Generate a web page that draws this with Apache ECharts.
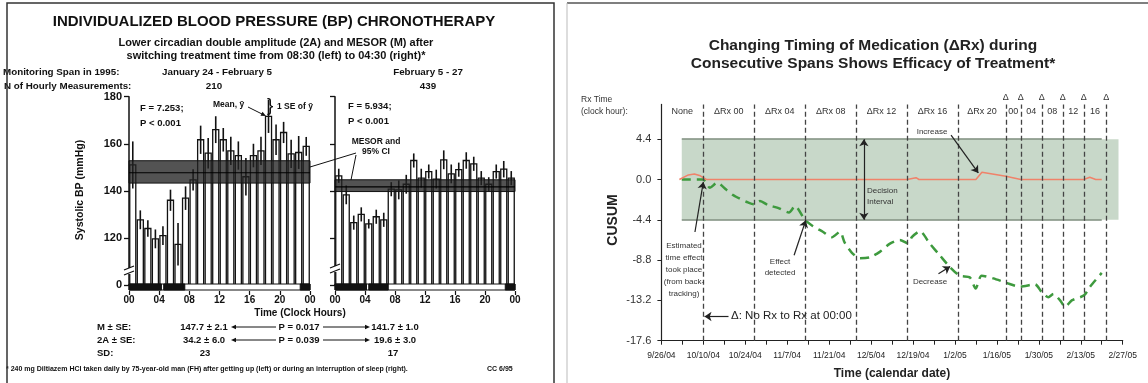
<!DOCTYPE html>
<html><head><meta charset="utf-8">
<script src="https://cdn.jsdelivr.net/npm/echarts@6/dist/echarts.min.js"></script>
<style>html,body{margin:0;padding:0;background:#fff}#c{width:1148px;height:383px}</style>
</head><body><div id="c"></div>
<script>
// ---------------- Left panel data (systolic BP by clock hour) ----------------
const clockHours = [0,1,2,3,4,5,6,7,8,9,10,11,12,13,14,15,16,17,18,19,20,21,22,23];
const leftMean  = [151,127.7,124,119.6,121,136,117.3,136.9,144.7,161.7,156,166,161.7,157,155,146,155,157,171.6,161.7,164.8,155.7,156.3,158.9];
const leftSE    = [10,4,3.5,4,4,4.5,9,5,4.5,6,6.5,5.7,5,6,6,8,5,6,7,6.5,4.5,6,7,4];
const rightMean = [146.4,138.3,126.5,130,126,129,127.7,140.7,140.4,142.8,152.9,145.4,148.2,145,153.2,147.2,149,152.9,151.5,145.4,142.8,148.2,149.2,145.4];
const rightSE   = [3,4,3,3,2,3,3,3,4,4,3,4,3,4,4,4,3,3.5,3,3,3,3,3.5,3];
const leftMesorBand  = [143.3,147.7,152.8];   // lower CI, MESOR, upper CI
const rightMesorBand = [139.7,141.7,144.7];
const leftSleep  = [[0,4.3],[4.6,7.4],[22.7,24]];
const rightSleep = [[0,4.2],[4.5,7.1],[22.7,24]];

// ---------------- Right panel data (CUSUM, days since 9/26/04) ----------------
const incDays  = [6,9,11,13,15,82,85,86,105,107,115,120,141,143,145,147];
const incCusum = [0,0.5,0.6,0.4,0,0,0.2,0,0,0.8,0.36,0,0,0.25,0,0];
const decDays  = [6.8,13.9,16.2,18.6,21.6,23.9,26.2,28.9,30.9,32.9,35.6,38.9,42.6,44.6,47.9,50.6,53.9,56.9,59.6,61.2,63.6,66.3,69.6,72.9,76.3,79.6,82.4,83.6,86.3,89.6,93,96.3,99.6,103,104.9,106.9,110.8,115.3,119.7,124.7,127,129.2,130.9,133.1,134.8,137,141.1,143.1,147];
const decCusum = [0,0,-0.9,-0.35,-1.1,-1.7,-2.1,-2.5,-2.7,-2.35,-2.8,-3.1,-3.6,-2.9,-4.4,-5.1,-5.7,-6.3,-5.7,-6.9,-8.0,-8.6,-8.5,-7.9,-7.0,-6.6,-7.0,-6.3,-5.65,-7.0,-8.3,-9.55,-10.5,-10.7,-11.9,-10.5,-10.8,-11.3,-11.7,-11.45,-12.3,-12.85,-12.5,-13.2,-13.9,-13.2,-12.65,-11.7,-10.2];
const spanBoundDays = [14,31,48,65,82,99,115,120,127,134,141,148.5];
const spanLabels = ['None','ΔRx 00','ΔRx 04','ΔRx 08','ΔRx 12','ΔRx 16','ΔRx 20','00','04','08','12','16'];
const deltaMarked = [false,false,false,false,false,false,true,true,true,true,true,true];
const decisionLimit = 4.4;

const FONT = '"Liberation Sans", Arial, Helvetica, sans-serif';
const chart = echarts.init(document.getElementById('c'));

function dayLabel(d){ const dt = new Date(2004,8,26+Math.round(d)); return (dt.getMonth()+1)+'/'+dt.getDate()+'/'+String(dt.getFullYear()).slice(2); }

function barSeries(xi, means, ses){
  return {type:'custom', xAxisIndex:xi, yAxisIndex:xi, z:2, clip:false,
    data: clockHours.map((h,i)=>[h, means[i], ses[i]]),
    encode:{x:0,y:1},
    renderItem:(p,api)=>{
      const h=api.value(0), v=api.value(1), se=api.value(2);
      const a=api.coord([h+0.1,100]), b=api.coord([h+0.9,v]);
      const c=api.coord([h+0.5,v+se]), d=api.coord([h+0.5,v-se]);
      return {type:'group',children:[
        {type:'rect',shape:{x:a[0],y:b[1],width:b[0]-a[0],height:a[1]-b[1]},style:{fill:'#fff',stroke:'#111',lineWidth:1.3}},
        {type:'line',shape:{x1:c[0],y1:c[1],x2:d[0],y2:d[1]},style:{stroke:'#111',lineWidth:1.6}}
      ]};
    }};
}
function bandSeries(xi, band){
  return {type:'custom', xAxisIndex:xi, yAxisIndex:xi, z:3, clip:false,
    data:[[0,24,band[0],band[1],band[2]]], encode:{x:[0,1],y:[2,3,4]},
    renderItem:(p,api)=>{
      const lo=api.coord([api.value(0),api.value(2)]), hi=api.coord([api.value(1),api.value(4)]), m=api.coord([0,api.value(3)]);
      return {type:'group',children:[
        {type:'rect',shape:{x:lo[0],y:hi[1],width:hi[0]-lo[0],height:lo[1]-hi[1]},style:{fill:'rgba(35,35,35,0.78)',stroke:'#111',lineWidth:1}},
        {type:'line',shape:{x1:lo[0],y1:m[1],x2:hi[0],y2:m[1]},style:{stroke:'#000',lineWidth:1.2}}
      ]};
    }};
}
function sleepSeries(xi, spans){
  return {type:'custom', xAxisIndex:xi, yAxisIndex:xi, z:4, clip:false,
    data:[[0,24,100,0]].concat(spans.map(s=>[s[0],s[1],100,1])), encode:{x:[0,1],y:2},
    renderItem:(p,api)=>{
      const a=api.coord([api.value(0),api.value(2)]), b=api.coord([api.value(1),api.value(2)]);
      const filled=api.value(3)===1;
      return {type:'rect',shape:{x:a[0],y:a[1]-1,width:b[0]-a[0],height:6},style:{fill:filled?'#111':'#fff',stroke:'#111',lineWidth:1}};
    }};
}
function hourAxis(gi){
  return {type:'value',gridIndex:gi,min:0,max:24,interval:4,offset:6,
    axisLine:{show:false,onZero:false},axisTick:{show:true,length:4,lineStyle:{color:'#111',width:1.2}},
    axisLabel:{formatter:v=>String(v%24).padStart(2,'0'),fontFamily:FONT,fontWeight:'bold',fontSize:10,color:'#111',margin:4},
    splitLine:{show:false}};
}
function bpAxis(gi, labels){
  return {type:'value',gridIndex:gi,min:100,max:180,interval:20,
    axisLine:{show:true,onZero:false,lineStyle:{color:'#111',width:1.5}},axisTick:{show:true,length:5,lineStyle:{color:'#111',width:1.3}},
    axisLabel:{show:labels,formatter:v=>v===100?'0':String(v),fontFamily:FONT,fontWeight:'bold',fontSize:11,color:'#111',margin:7},
    splitLine:{show:false}};
}

// ---------- graphic helpers ----------
const G=[];
function T(x,y,text,o){ o=o||{}; G.push({type:'text',x:x,y:y,rotation:o.rot||0,z:50,style:{text:text,fontFamily:FONT,fontSize:o.fs||10,fontWeight:o.fw||'normal',fill:o.c||'#111',textAlign:o.al||'left',textVerticalAlign:'middle'}}); }
function L(x1,y1,x2,y2,o){ o=o||{}; G.push({type:'line',z:50,shape:{x1,y1,x2,y2},style:{stroke:o.c||'#111',lineWidth:o.w||1}}); }
function head(x,y,dx,dy,s,c){ const len=Math.hypot(dx,dy), ux=dx/len, uy=dy/len; G.push({type:'polygon',z:51,shape:{points:[[x,y],[x-ux*s-uy*s*0.45,y-uy*s+ux*s*0.45],[x-ux*s+uy*s*0.45,y-uy*s-ux*s*0.45]]},style:{fill:c||'#111'}}); }

// Frames
G.push({type:'rect',z:60,shape:{x:7,y:3,width:547,height:390},style:{fill:'none',stroke:'#333',lineWidth:1.5}});
L(567,3,1148,3,{c:'#555',w:1.5}); L(567,3,567,383,{c:'#bbb',w:1});

// Left panel texts
T(274,22,'INDIVIDUALIZED BLOOD PRESSURE (BP) CHRONOTHERAPY',{fs:15,fw:'bold',al:'center'});
T(276,43,'Lower circadian double amplitude (2A) and MESOR (M) after',{fs:11,fw:'bold',al:'center'});
T(276,56,'switching treatment time from 08:30 (left) to 04:30 (right)*',{fs:11,fw:'bold',al:'center'});
T(3,72,'Monitoring Span in 1995:',{fs:9.8,fw:'bold'});
T(217,72,'January 24 - February 5',{fs:9.8,fw:'bold',al:'center'});
T(428,72,'February 5 - 27',{fs:9.8,fw:'bold',al:'center'});
T(4,86,'N of Hourly Measurements:',{fs:9.8,fw:'bold'});
T(214,86,'210',{fs:9.8,fw:'bold',al:'center'});
T(428,86,'439',{fs:9.8,fw:'bold',al:'center'});
T(80,190,'Systolic BP (mmHg)',{fs:10.5,fw:'bold',al:'center',rot:Math.PI/2});
T(140,108,'F = 7.253;',{fs:9.5,fw:'bold'});
T(140,123,'P < 0.001',{fs:9.5,fw:'bold'});
T(348,106,'F = 5.934;',{fs:9.5,fw:'bold'});
T(348,121,'P < 0.001',{fs:9.5,fw:'bold'});
T(213,105,'Mean, ȳ',{fs:8.5,fw:'bold'});
L(248,107,264,115,{w:1}); head(266,116,2,1,5);
T(267,106,'}',{fs:19});
T(277,106.5,'1 SE of ȳ',{fs:8.5,fw:'bold'});
T(376,142,'MESOR and',{fs:8.5,fw:'bold',al:'center'});
T(376,152,'95% CI',{fs:8.5,fw:'bold',al:'center'});
L(310,167,356,153,{w:1}); L(356,155,351,180,{w:1});
// axis breaks
G.push({type:'rect',z:49,shape:{x:126,y:268,width:6,height:6},style:{fill:'#fff'}});
L(124,270,134,266,{w:1.2}); L(124,275,134,271,{w:1.2});
G.push({type:'rect',z:49,shape:{x:332,y:266,width:6,height:6},style:{fill:'#fff'}});
L(330,268,340,264,{w:1.2}); L(330,273,340,269,{w:1.2});
T(300,313,'Time (Clock Hours)',{fs:10,fw:'bold',al:'center'});
T(97,327,'M ± SE:',{fs:9.5,fw:'bold'}); T(204,327,'147.7 ± 2.1',{fs:9.5,fw:'bold',al:'center'});
T(299,327,'P = 0.017',{fs:9.5,fw:'bold',al:'center'}); T(395,327,'141.7 ± 1.0',{fs:9.5,fw:'bold',al:'center'});
T(97,340,'2A ± SE:',{fs:9.5,fw:'bold'}); T(204,340,'34.2 ± 6.0',{fs:9.5,fw:'bold',al:'center'});
T(299,340,'P = 0.039',{fs:9.5,fw:'bold',al:'center'}); T(395,340,'19.6 ± 3.0',{fs:9.5,fw:'bold',al:'center'});
T(97,353,'SD:',{fs:9.5,fw:'bold'}); T(205,353,'23',{fs:9.5,fw:'bold',al:'center'}); T(393,353,'17',{fs:9.5,fw:'bold',al:'center'});
[327,340].forEach(y=>{ L(234,y,276,y,{w:1}); head(231,y,-1,0,5); L(323,y,366,y,{w:1}); head(370,y,1,0,5); });
T(6,369,'* 240 mg Diltiazem HCl taken daily by 75-year-old man (FH) after getting up (left) or during an interruption of sleep (right).',{fs:7,fw:'bold'});
T(487,369,'CC 6/95',{fs:7,fw:'bold'});

// Right panel texts
T(873,46,'Changing Timing of Medication (ΔRx) during',{fs:15.5,fw:'bold',al:'center',c:'#222'});
T(873,64,'Consecutive Spans Shows Efficacy of Treatment*',{fs:15.5,fw:'bold',al:'center',c:'#222'});
T(581,100,'Rx Time',{fs:8.5,c:'#333'});
T(581,112,'(clock hour):',{fs:8.5,c:'#333'});
T(613,220,'CUSUM',{fs:14,fw:'bold',al:'center',rot:Math.PI/2,c:'#222'});
T(892,374,'Time (calendar date)',{fs:12,fw:'bold',al:'center',c:'#222'});
['Estimated','time effect','took place','(from back-','tracking)'].forEach((s,i)=>T(684,246+i*12,s,{fs:8,al:'center',c:'#333'}));
T(780,262,'Effect',{fs:8,al:'center',c:'#333'}); T(780,273,'detected',{fs:8,al:'center',c:'#333'});
T(932,132,'Increase',{fs:8,al:'center',c:'#333'});
T(867,191,'Decision',{fs:8,c:'#333'}); T(867,202,'Interval',{fs:8,c:'#333'});
T(930,282,'Decrease',{fs:8,al:'center',c:'#333'});
T(731,316,'Δ: No Rx to Rx at 00:00',{fs:11.5,c:'#222'});

// ---------- CUSUM annotation arrows (data coordinates) ----------
const arrowPairs = [
  [[11.2,-5.73],[14.0,-0.26]],
  [[44.3,-8.27],[48.2,-4.45]],
  [[96.7,4.85],[105.8,0.72]],
  [[92.5,-10.3],[96.4,-9.5]],
  [[22.4,-14.96],[14.4,-14.96]]
];

const option = {
  animation:false,
  textStyle:{fontFamily:FONT},
  graphic:G,
  grid:[
    {left:129,top:96.7,width:181,height:188.3},
    {left:335,top:96.7,width:180,height:188.3},
    {left:661.4,top:104.4,width:461.3,height:236.3}
  ],
  xAxis:[hourAxis(0),hourAxis(1),
    {type:'value',gridIndex:2,min:0,max:154,interval:7,
     axisLine:{onZero:false,lineStyle:{color:'#222',width:1.2}},axisTick:{length:4,lineStyle:{color:'#222'}},
     axisLabel:{formatter:v=>(Math.round(v)%14===0?dayLabel(v):''),fontFamily:FONT,fontSize:8.5,color:'#222',margin:10,showMaxLabel:true},
     splitLine:{show:false}}],
  yAxis:[bpAxis(0,true),bpAxis(1,false),
    {type:'value',gridIndex:2,min:-17.6,max:8.2,interval:4.4,
     axisLine:{onZero:false,lineStyle:{color:'#222',width:1.2}},axisTick:{length:4,lineStyle:{color:'#222'}},
     axisLabel:{formatter:v=>{ if(v>5) return ''; const r=Math.abs(v)<1e-6?0:v; return r.toFixed(1);},fontFamily:FONT,fontSize:11,color:'#333',margin:10,showMaxLabel:false},
     splitLine:{show:false}}],
  series:[
    barSeries(0,leftMean,leftSE), bandSeries(0,leftMesorBand), sleepSeries(0,leftSleep),
    barSeries(1,rightMean,rightSE), bandSeries(1,rightMesorBand), sleepSeries(1,rightSleep),
    {type:'line',xAxisIndex:2,yAxisIndex:2,data:[],z:1,silent:true,
      markArea:{silent:true,data:[
        [{xAxis:6.8,yAxis:-decisionLimit,itemStyle:{color:'#c8d8c9'}},{xAxis:152.6,yAxis:decisionLimit}]
      ].concat(spanLabels.map((s,i)=>[{xAxis:i===0?0:spanBoundDays[i-1],itemStyle:{color:'rgba(0,0,0,0)'},label:{show:true,position:'insideTop',distance:3,formatter:s,fontSize:9,color:'#333',fontFamily:FONT}},{xAxis:spanBoundDays[i]}]))},
      markLine:{silent:true,symbol:['none','none'],label:{show:false},data:[
        [{coord:[6.8,decisionLimit],lineStyle:{color:'#7c8c7c',width:1.5,type:'solid'}},{coord:[147,decisionLimit]}],
        [{coord:[6.8,-decisionLimit],lineStyle:{color:'#7c8c7c',width:1.5,type:'solid'}},{coord:[147,-decisionLimit]}]
      ].concat(spanBoundDays.map((d,i)=>({xAxis:d,lineStyle:{color:'#444',width:1.3,type:[5,3]},label:{show:deltaMarked[i],position:'end',formatter:'Δ',fontSize:9,color:'#333',distance:2}})))}
    },
    {type:'line',name:'decrease',xAxisIndex:2,yAxisIndex:2,z:3,showSymbol:false,smooth:0.25,
      data:decDays.map((d,i)=>[d,decCusum[i]]),lineStyle:{color:'#3e9a3e',width:2.5,type:[9,6]}},
    {type:'line',name:'increase',xAxisIndex:2,yAxisIndex:2,z:4,showSymbol:false,
      data:incDays.map((d,i)=>[d,incCusum[i]]),lineStyle:{color:'#f0826a',width:1.5}},
    {type:'line',xAxisIndex:2,yAxisIndex:2,data:[],z:6,silent:true,
      markLine:{silent:true,symbol:['none','arrow'],symbolSize:7,label:{show:false},lineStyle:{color:'#222',width:1.2,type:'solid'},
        data:arrowPairs.map(p=>[{coord:p[0]},{coord:p[1]}]).concat([
          [{coord:[67.6,decisionLimit],symbol:'arrow'},{coord:[67.6,-decisionLimit],symbol:'arrow'}]
        ])}}
  ]
};
chart.setOption(option);
</script></body></html>
